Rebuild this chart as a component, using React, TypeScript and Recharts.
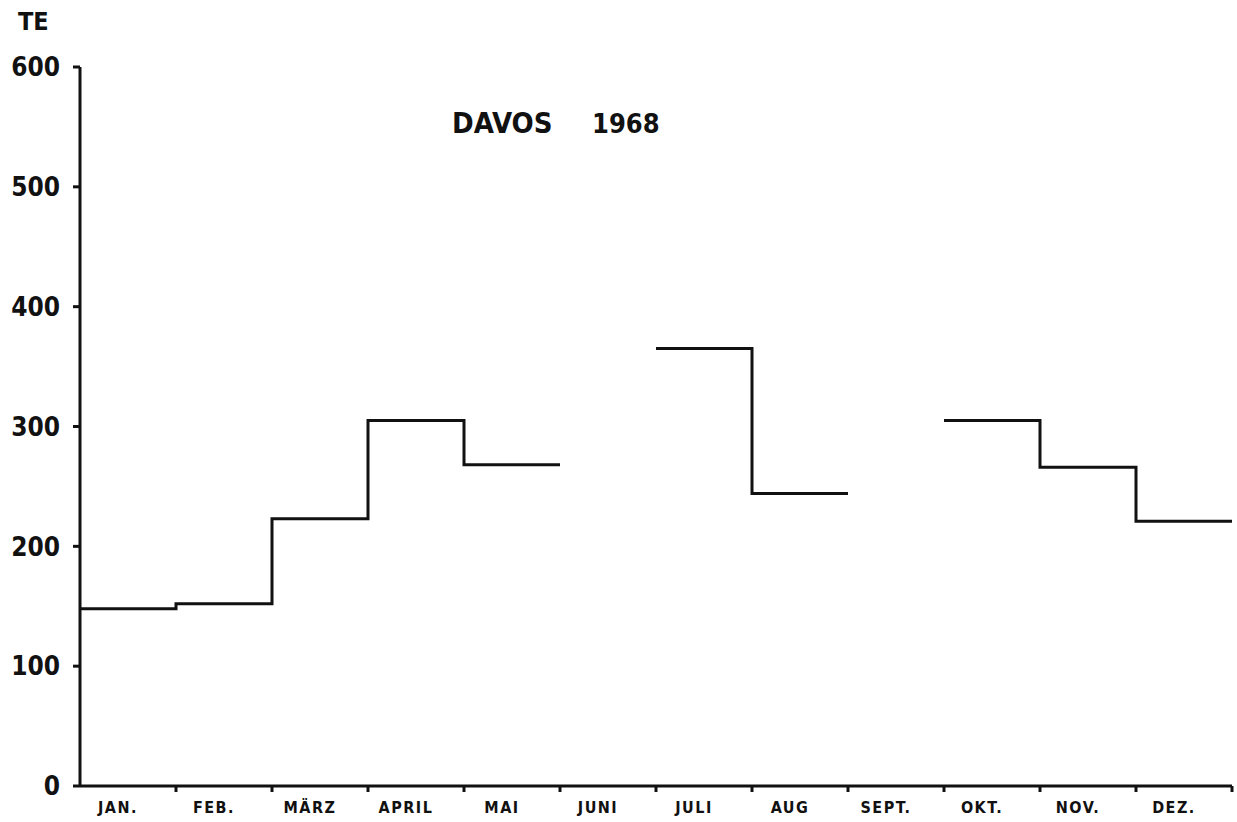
import React from 'react';
import { LineChart, Line, XAxis, YAxis } from 'recharts';

const MONTHS = ['JAN.', 'FEB.', 'MÄRZ', 'APRIL', 'MAI', 'JUNI', 'JULI', 'AUG', 'SEPT.', 'OKT.', 'NOV.', 'DEZ.'];
// monthly values (TE); null = no value for that month
const VALUES: (number | null)[] = [148, 152, 223, 305, 268, null, 365, 244, null, 305, 266, 221];
const Y_TICKS = [0, 100, 200, 300, 400, 500, 600];
const BOUNDARY_TICKS = [1, 2, 3, 4, 5, 6, 7, 8, 9, 10, 11, 12];
const LABEL_TICKS = MONTHS.map((_, i) => i + 0.5);

const FONT = '"DejaVu Sans Condensed", "DejaVu Sans", sans-serif';

// turn monthly values into a stepped line: one flat piece per month, broken where a value is missing
const stepData: { x: number; v: number | null }[] = [];
VALUES.forEach((v, i) => {
  if (v == null) {
    stepData.push({ x: i, v: null });
  } else {
    stepData.push({ x: i, v });
    stepData.push({ x: i + 1, v });
  }
});

const MonthTick = (props: any) => {
  const { x, y, payload } = props;
  const label = MONTHS[Math.floor(payload.value)];
  return (
    <text x={x - 10} y={y + 17} textAnchor="middle" fill="#111" fontFamily={FONT} fontWeight="bold" fontSize={16} letterSpacing={1.5}>
      {label}
    </text>
  );
};

const NoLabel = () => <g />;

export default function App() {
  return (
    <div style={{ position: 'absolute', left: 0, top: 0, width: 1237, height: 822, background: '#fff' }}>
      <LineChart width={1237} height={822} data={stepData} margin={{ top: 67, right: 5, bottom: 4, left: 0 }}>
        <XAxis
          xAxisId="b"
          type="number"
          dataKey="x"
          domain={[0, 12]}
          ticks={BOUNDARY_TICKS}
          tick={NoLabel}
          height={2}
          stroke="#111"
          strokeWidth={3}
          tickSize={6}
        />
        <XAxis
          xAxisId="m"
          type="number"
          dataKey="x"
          domain={[0, 12]}
          ticks={LABEL_TICKS}
          axisLine={false}
          tickLine={false}
          tick={MonthTick}
          height={30}
        />
        <YAxis
          type="number"
          domain={[0, 600]}
          ticks={Y_TICKS}
          width={80}
          stroke="#111"
          strokeWidth={3}
          tickSize={7}
          tickMargin={13}
          tick={{ fill: '#111', fontFamily: FONT, fontWeight: 'bold', fontSize: 26 }}
        />
        <Line
          xAxisId="b"
          type="linear"
          dataKey="v"
          stroke="#111"
          strokeWidth={3}
          dot={false}
          connectNulls={false}
          isAnimationActive={false}
        />
      </LineChart>
      <svg width={1237} height={822} style={{ position: 'absolute', left: 0, top: 0, pointerEvents: 'none' }}>
        <text x={18} y={30} fontFamily={FONT} fontWeight="bold" fontSize={25} fill="#111">TE</text>
        <text x={452} y={133} fontFamily={FONT} fontWeight="bold" fontSize={29} fill="#111">DAVOS</text>
        <text x={592} y={133} fontFamily={FONT} fontWeight="bold" fontSize={27} fill="#111">1968</text>
      </svg>
    </div>
  );
}
